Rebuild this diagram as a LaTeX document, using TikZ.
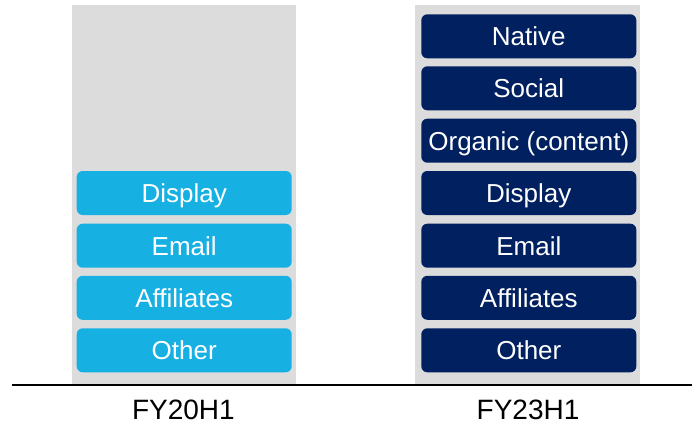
\documentclass[tikz,border=0pt]{standalone}
\usepackage{fontspec}
\setmainfont{Liberation Sans}
\usetikzlibrary{positioning,calc}
\definecolor{barbg}{HTML}{DCDCDC}
\definecolor{oldch}{HTML}{17B0E3}
\definecolor{newch}{HTML}{002060}
\tikzset{
  column/.style={fill=barbg, shape=rectangle, minimum height=379pt, minimum width=224.5pt, inner sep=0},
  chan/.style={shape=rectangle, rounded corners=6pt, minimum height=44pt, minimum width=215pt, inner sep=0, text=white, font=\fontsize{26}{30}\selectfont, text height=18.6pt, text depth=0pt},
  oldbox/.style={chan, fill=oldch},
  newbox/.style={chan, fill=newch},
}

\begin{document}
\begin{tikzpicture}[x=1pt, y=-1pt]

\useasboundingbox (0, 0) rectangle (692, 423);

\path (183.9, 194.5) node[column] (col1) {};
\path (527.5, 194.5) node[column] (col2) {};

\path (184.2, 193) node[oldbox] (disp1) {Display};
\path (184.2, 245.7) node[oldbox] (email1) {Email};
\path (184.2, 297.8) node[oldbox] (aff1) {Affiliates};
\path (184.2, 350.3) node[oldbox] (other1) {Other};

\path (528.8, 36.3) node[newbox] (native2) {Native};
\path (528.8, 88.3) node[newbox] (social2) {Social};
\path (528.8, 140.7) node[newbox] (organic2) {Organic (content)};
\path (528.8, 193) node[newbox] (disp2) {Display};
\path (528.8, 245.7) node[newbox] (email2) {Email};
\path (528.8, 297.8) node[newbox] (aff2) {Affiliates};
\path (528.8, 350.3) node[newbox] (other2) {Other};

\coordinate (axisl) at (12, 385.3);
\coordinate (axisr) at (692, 385.3);
\draw[line width=2pt] (axisl) -- (axisr);

\path (183.4, 419) node[anchor=base, inner sep=0, font=\fontsize{28}{32}\selectfont] (fy20) {FY20H1};
\path (528, 419) node[anchor=base, inner sep=0, font=\fontsize{28}{32}\selectfont] (fy23) {FY23H1};
\end{tikzpicture}
\end{document}
